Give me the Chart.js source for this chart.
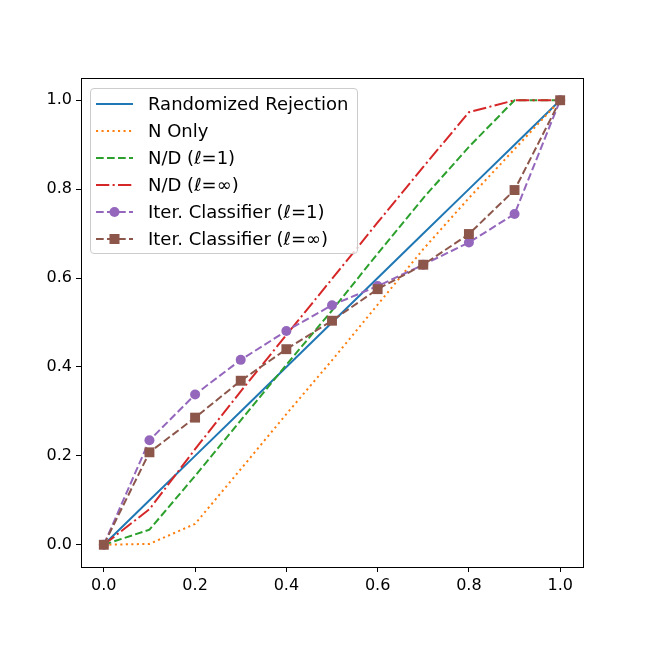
<!DOCTYPE html>
<html>
<head>
<meta charset="utf-8">
<script src="https://cdn.jsdelivr.net/npm/chart.js@4.4.1/dist/chart.umd.min.js"></script>
<style>
  body { margin: 0; background: #fff; }
  #wrap { position: relative; width: 648px; height: 648px; }
  #legend {
    position: absolute; left: 90px; top: 88px; width: 266px; height: 163px;
    border: 1px solid #ccc; border-radius: 4px; background: rgba(255,255,255,0.8);
    font-family: "DejaVu Sans", sans-serif; font-size: 18px; color: #000;
    padding-top: 1px;
  }
  .row { height: 27px; display: flex; align-items: center; white-space: nowrap; }
  .row svg { margin-left: 5px; margin-right: 15px; }
</style>
</head>
<body>
<div id="wrap">
  <canvas id="myChart"></canvas>
  <div id="legend"></div>
</div>
<script>
const xs = [0, 0.1, 0.2, 0.3, 0.4, 0.5, 0.6, 0.7, 0.8, 0.9, 1.0];
const randomized = [0, 0.1, 0.2, 0.3, 0.4, 0.5, 0.6, 0.7, 0.8, 0.9, 1.0];
const nOnly = [0, 0.002, 0.047, 0.17, 0.294, 0.415, 0.54, 0.665, 0.78, 0.89, 1.0];
const nd1 = [0, 0.034, 0.155, 0.28, 0.405, 0.527, 0.655, 0.78, 0.895, 1.0, 1.0];
const ndInf = [0, 0.08, 0.215, 0.345, 0.472, 0.598, 0.725, 0.85, 0.973, 1.0, 1.0];
const iter1 = [0, 0.235, 0.338, 0.416, 0.481, 0.539, 0.582, 0.63, 0.68, 0.744, 1.0];
const iterInf = [0, 0.208, 0.286, 0.369, 0.44, 0.504, 0.575, 0.63, 0.699, 0.798, 1.0];

const tickValues = [0, 0.2, 0.4, 0.6, 0.8, 1.0];
const tickLabels = ["0.0", "0.2", "0.4", "0.6", "0.8", "1.0"];

const series = [
  { label: "Randomized Rejection", data: randomized, color: "#1f77b4", dash: [], marker: false },
  { label: "N Only", data: nOnly, color: "#ff7f0e", dash: [2.1, 3.4], marker: false },
  { label: "N/D (\u2113=1)", data: nd1, color: "#2ca02c", dash: [7.7, 3.3], marker: false },
  { label: "N/D (\u2113=\u221e)", data: ndInf, color: "#d62728", dash: [13.3, 3.3, 2.1, 3.3], marker: false },
  { label: "Iter. Classifier (\u2113=1)", data: iter1, color: "#9467bd", dash: [7.7, 3.3], marker: "circle" },
  { label: "Iter. Classifier (\u2113=\u221e)", data: iterInf, color: "#8c564b", dash: [7.7, 3.3], marker: "rect" },
];

Chart.defaults.font.family = "DejaVu Sans";
Chart.defaults.font.size = 16;
Chart.defaults.color = "#000";

const frame = {
  id: "frame",
  afterDraw(chart) {
    const a = chart.chartArea, c = chart.ctx;
    c.save();
    c.strokeStyle = "#000";
    c.lineWidth = 1;
    c.strokeRect(Math.round(a.left) + 0.5, Math.round(a.top) + 0.5,
      Math.round(a.right - a.left), Math.round(a.bottom - a.top));
    c.restore();
  },
};

const axis = (fit) => ({
  type: "linear",
  min: -0.05,
  max: 1.05,
  afterBuildTicks: (s) => { s.ticks = tickValues.map((v) => ({ value: v })); },
  afterFit: fit,
  ticks: { callback: (v, i) => tickLabels[i], padding: 4, font: { size: 16 } },
  grid: { drawOnChartArea: false, drawTicks: true, tickLength: 5, color: "#000", lineWidth: 1 },
  border: { display: true, color: "#000", width: 1 },
});

new Chart(document.getElementById("myChart"), {
  type: "line",
  data: {
    datasets: series.map((s, i) => ({
      label: s.label,
      data: xs.map((x, j) => ({ x: x, y: s.data[j] })),
      borderColor: s.color,
      backgroundColor: s.color,
      borderWidth: 2,
      borderDash: s.dash,
      tension: 0,
      pointStyle: s.marker || "circle",
      pointRadius: s.marker === "circle" ? 5 : s.marker === "rect" ? 7 : 0,
      pointBorderWidth: 0,
      order: series.length - i,
    })),
  },
  options: {
    responsive: true,
    maintainAspectRatio: false,
    animation: false,
    layout: { padding: { left: 41, right: 65, top: 78, bottom: 51 } },
    plugins: { legend: { display: false }, tooltip: { enabled: false } },
    scales: {
      x: axis((s) => { s.height = 30; }),
      y: axis((s) => { s.width = 40; }),
    },
  },
  plugins: [frame],
});

// legend drawn as html, mirroring the series styles
const legend = document.getElementById("legend");
series.forEach((s) => {
  const row = document.createElement("div");
  row.className = "row";
  let mk = "";
  if (s.marker === "circle") mk = `<circle cx="18.5" cy="7" r="5" fill="${s.color}"/>`;
  if (s.marker === "rect") mk = `<rect x="13.5" y="2" width="10" height="10" fill="${s.color}"/>`;
  row.innerHTML =
    `<svg width="37" height="14"><line x1="0" y1="7" x2="37" y2="7" stroke="${s.color}" stroke-width="2" stroke-dasharray="${s.dash.join(" ") || "none"}"/>${mk}</svg>` +
    `<span>${s.label}</span>`;
  legend.appendChild(row);
});
</script>
</body>
</html>
